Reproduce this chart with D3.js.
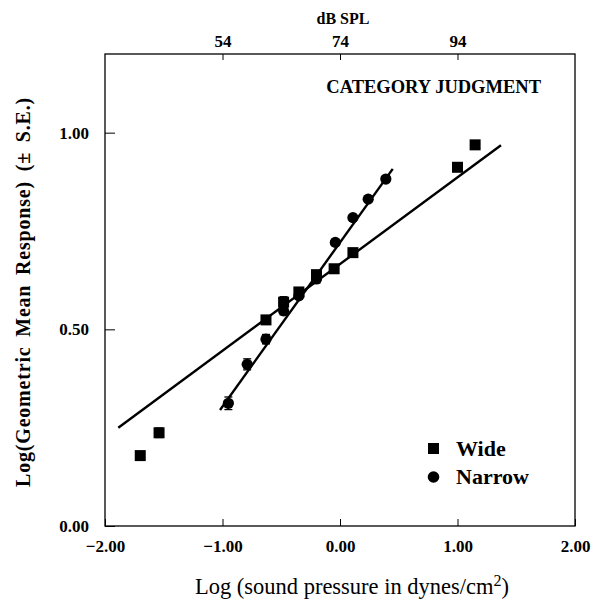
<!DOCTYPE html>
<html><head><meta charset="utf-8">
<script src="https://cdn.jsdelivr.net/npm/d3@7"></script>
<style>
body{margin:0;background:#fff;}
svg text{font-family:"Liberation Serif","DejaVu Serif",serif;fill:#000;}
</style></head>
<body><svg id="c" width="602" height="604"></svg>
<script>
// Data
const wideX = [-1.70, -1.54, -0.63, -0.48, -0.35, -0.20, -0.05, 0.11, 1.00, 1.15];
const wideY = [0.179, 0.237, 0.524, 0.569, 0.595, 0.639, 0.654, 0.695, 0.912, 0.969];
const wideErr = [0.008, 0.012, 0.008, 0.014, 0.008, 0.010, 0.008, 0.008, 0.008, 0.008];
const narrowX = [-0.95, -0.79, -0.63, -0.48, -0.35, -0.20, -0.04, 0.11, 0.24, 0.39];
const narrowY = [0.312, 0.411, 0.475, 0.547, 0.585, 0.628, 0.721, 0.784, 0.831, 0.882];
const narrowErr = [0.016, 0.014, 0.012, 0.010, 0.008, 0.010, 0.008, 0.008, 0.008, 0.008];
const wideFitX = [-1.887, 1.370];
const wideFitY = [0.250, 0.968];
const narrowFitX = [-1.021, 0.449];
const narrowFitY = [0.295, 0.908];
const xTicks = [-2, -1, 0, 1, 2];
const yTicks = [0, 0.5, 1.0];
const dbTicks = [-1, 0, 1];
const dbLabels = ["54", "74", "94"];

const svg = d3.select("#c");
const x = d3.scaleLinear().domain([-2, 2]).range([105, 575]);
const y = d3.scaleLinear().domain([0, 1.2]).range([526, 54]);

// frame
svg.append("rect").attr("x", x(-2)).attr("y", y(1.2))
  .attr("width", x(2) - x(-2)).attr("height", y(0) - y(1.2))
  .attr("fill", "none").attr("stroke", "#000").attr("stroke-width", 1.3);

// bottom axis
const bx = svg.append("g").attr("transform", `translate(0,${y(0)})`)
  .call(d3.axisBottom(x).tickValues(xTicks).tickFormat(d3.format(".2f")).tickSizeInner(-7).tickSizeOuter(0).tickPadding(14));
bx.select(".domain").remove();
bx.selectAll("line").attr("stroke", "#000");
bx.selectAll("text").attr("font-size", 17).attr("font-weight", "bold")
  .text(d => d < 0 ? "\u2212" + Math.abs(d).toFixed(2) : d.toFixed(2));

// left axis
const ly = svg.append("g").attr("transform", `translate(${x(-2)},0)`)
  .call(d3.axisLeft(y).tickValues(yTicks).tickFormat(d3.format(".2f")).tickSizeInner(-10).tickSizeOuter(0).tickPadding(16));
ly.select(".domain").remove();
ly.selectAll("line").attr("stroke", "#000");
ly.selectAll("text").attr("font-size", 17).attr("font-weight", "bold");

// top axis dB SPL
const tx = svg.append("g").attr("transform", `translate(0,${y(1.2)})`)
  .call(d3.axisTop(x).tickValues(dbTicks).tickFormat((d, i) => dbLabels[i]).tickSizeInner(-6).tickSizeOuter(0).tickPadding(7));
tx.select(".domain").remove();
tx.selectAll("line").attr("stroke", "#000");
tx.selectAll("text").attr("font-size", 17).attr("font-weight", "bold");
svg.append("text").attr("x", x(0) + 3).attr("y", 24).attr("text-anchor", "middle")
  .attr("font-size", 16).attr("font-weight", "bold").text("dB SPL");

// titles
svg.append("text").attr("x", 352).attr("y", 594).attr("text-anchor", "middle")
  .attr("font-size", 22.5)
  .html('Log (sound pressure in dynes/cm<tspan dy="-8" font-size="16">2</tspan><tspan dy="8">)</tspan>');
svg.append("text").attr("transform", `translate(30,292) rotate(-90)`)
  .attr("text-anchor", "middle").attr("font-size", 20).attr("font-weight", "bold")
  .attr("letter-spacing", 0.8).attr("word-spacing", 4)
  .text("Log(Geometric Mean Response) (\u00B1 S.E.)");

svg.append("text").attr("x", 541).attr("y", 93).attr("text-anchor", "end")
  .attr("font-size", 18.5).attr("font-weight", "bold").text("CATEGORY JUDGMENT");

// fit lines
const line = d3.line().x(d => x(d[0])).y(d => y(d[1]));
svg.append("path").datum(wideFitX.map((v, i) => [v, wideFitY[i]]))
  .attr("d", line).attr("stroke", "#000").attr("stroke-width", 2.4).attr("fill", "none");
svg.append("path").datum(narrowFitX.map((v, i) => [v, narrowFitY[i]]))
  .attr("d", line).attr("stroke", "#000").attr("stroke-width", 2.4).attr("fill", "none");

// error bars
function errBars(xs, ys, es) {
  const g = svg.append("g").attr("stroke", "#000").attr("stroke-width", 1.3);
  xs.forEach((v, i) => {
    const cx = x(v), y1 = y(ys[i] + es[i]), y2 = y(ys[i] - es[i]);
    g.append("line").attr("x1", cx).attr("x2", cx).attr("y1", y1).attr("y2", y2);
    g.append("line").attr("x1", cx - 4).attr("x2", cx + 4).attr("y1", y1).attr("y2", y1);
    g.append("line").attr("x1", cx - 4).attr("x2", cx + 4).attr("y1", y2).attr("y2", y2);
  });
}
errBars(wideX, wideY, wideErr);
errBars(narrowX, narrowY, narrowErr);

// markers
svg.append("g").selectAll("circle").data(narrowX).join("circle")
  .attr("cx", d => x(d)).attr("cy", (d, i) => y(narrowY[i])).attr("r", 5.6).attr("fill", "#000");
svg.append("g").selectAll("rect").data(wideX).join("rect")
  .attr("x", d => x(d) - 5.5).attr("y", (d, i) => y(wideY[i]) - 5.5)
  .attr("width", 11).attr("height", 11).attr("fill", "#000");

// legend
const lg = svg.append("g");
lg.append("rect").attr("x", 428).attr("y", 443).attr("width", 11).attr("height", 11).attr("fill", "#000");
lg.append("text").attr("x", 456).attr("y", 456).attr("font-size", 22).attr("font-weight", "bold").text("Wide");
lg.append("circle").attr("cx", 433.5).attr("cy", 477).attr("r", 5.8).attr("fill", "#000");
lg.append("text").attr("x", 456).attr("y", 484).attr("font-size", 22).attr("font-weight", "bold").text("Narrow");
</script></body></html>
